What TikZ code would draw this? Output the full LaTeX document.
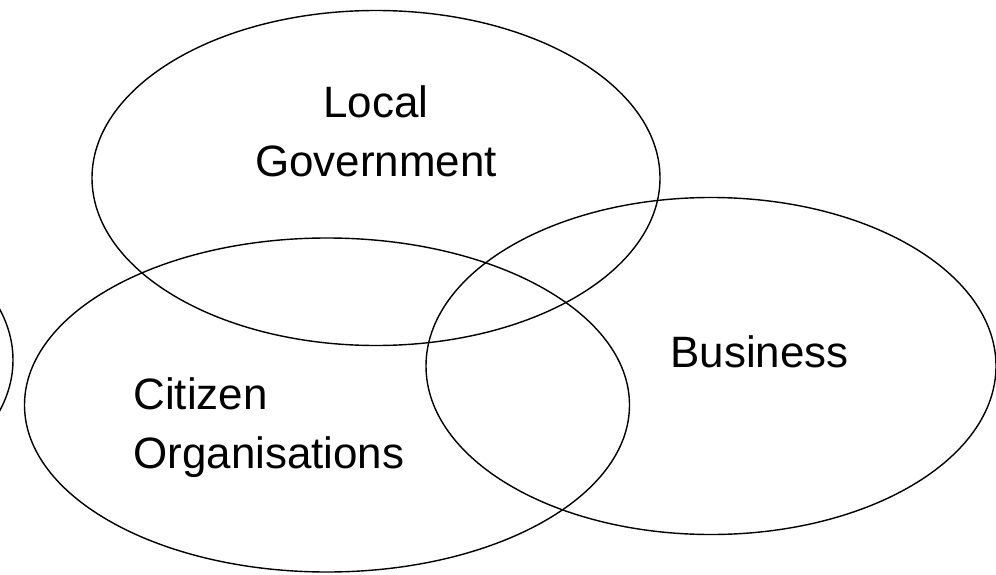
\documentclass[tikz,border=0pt]{standalone}
\usepackage{fontspec}
\setmainfont{Liberation Sans}
\usetikzlibrary{shapes.geometric}

\begin{document}
\begin{tikzpicture}[line cap=round,line join=round,x=1.0cm,y=1.0cm,
  sector/.style={draw=black,line width=0.8pt,ellipse,inner sep=0pt},
  label/.style={font=\fontsize{25}{33.5}\selectfont,inner sep=0pt}]
\useasboundingbox (0,0) rectangle (19.92,11.48);
\clip (0,0) rectangle (19.92,11.48);
% the four sectors
\node[sector,minimum width=11.72cm,minimum height=6.8cm] (other) at (-5.6,4.28) {};
\node[sector,minimum width=11.36cm,minimum height=6.7cm] (gov) at (7.52,7.92) {};
\node[sector,minimum width=12.1cm,minimum height=6.68cm] (cit) at (6.54,3.38) {};
\node[sector,minimum width=11.4cm,minimum height=6.74cm] (bus) at (14.22,4.16) {};
% names
\node[label,align=center] (govtext) at (7.52,8.86) {Local\\Government};
\node[label,align=left,anchor=west] (cittext) at (2.66,2.92) {Citizen\\Organisations};
\node[label,anchor=base west] (bustext) at (13.4,4.14) {Business};
\end{tikzpicture}
\end{document}
